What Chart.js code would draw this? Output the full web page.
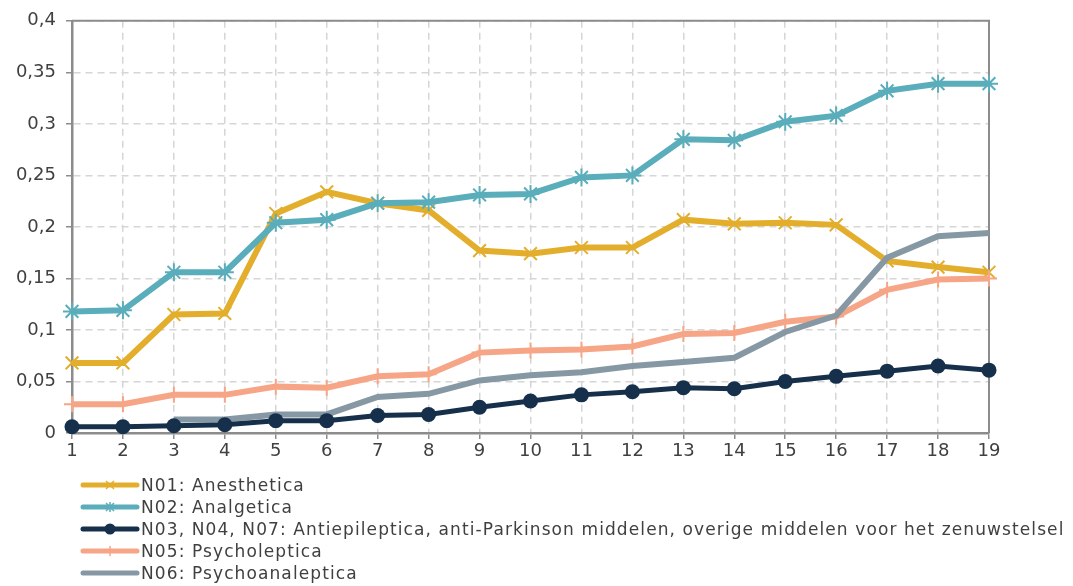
<!DOCTYPE html>
<html>
<head>
<meta charset="utf-8">
<script src="https://cdn.jsdelivr.net/npm/chart.js@4/dist/chart.umd.min.js"></script>
<style>
  html, body { margin: 0; padding: 0; background: #fff; }
  #wrap { position: relative; width: 1073px; height: 586px; }
  #c { position: absolute; left: 0; top: 0; }
  #legend { position: absolute; left: 80px; top: 474px; font-family: "DejaVu Sans", sans-serif; font-size: 17px; letter-spacing: 1.1px; color: #404040; }
  .row { height: 22px; display: flex; align-items: center; white-space: nowrap; }
  .row svg { margin-right: 1px; }
</style>
</head>
<body>
<div id="wrap">
  <canvas id="c" width="1073" height="586"></canvas>
  <div id="legend"></div>
</div>
<script>
const categories = ["1","2","3","4","5","6","7","8","9","10","11","12","13","14","15","16","17","18","19"];

const yTickLabels = ["0","0,05","0,1","0,15","0,2","0,25","0,3","0,35","0,4"];

const seriesNames = [
  "N01: Anesthetica",
  "N02: Analgetica",
  "N03, N04, N07: Antiepileptica, anti-Parkinson middelen, overige middelen voor het zenuwstelsel",
  "N05: Psycholeptica",
  "N06: Psychoanaleptica"
];

const n01 = [0.068, 0.068, 0.115, 0.116, 0.213, 0.234, 0.223, 0.216, 0.177, 0.174, 0.180, 0.180, 0.207, 0.203, 0.204, 0.202, 0.167, 0.161, 0.156];
const n02 = [0.118, 0.119, 0.156, 0.156, 0.204, 0.207, 0.223, 0.224, 0.231, 0.232, 0.248, 0.250, 0.285, 0.284, 0.302, 0.308, 0.332, 0.339, 0.339];
const n03 = [0.006, 0.006, 0.007, 0.008, 0.012, 0.012, 0.017, 0.018, 0.025, 0.031, 0.037, 0.040, 0.044, 0.043, 0.050, 0.055, 0.060, 0.065, 0.061];
const n05 = [0.028, 0.028, 0.037, 0.037, 0.045, 0.044, 0.055, 0.057, 0.078, 0.080, 0.081, 0.084, 0.096, 0.097, 0.108, 0.113, 0.139, 0.149, 0.150];
const n06 = [null, null, 0.013, 0.013, 0.018, 0.018, 0.035, 0.038, 0.051, 0.056, 0.059, 0.065, 0.069, 0.073, 0.098, 0.114, 0.170, 0.191, 0.194];

const colors = ["#E3AE2C", "#5AADBA", "#16304C", "#F6A586", "#8698A3"];
const markers = ["crossRot", "star", "circle", "cross", false];

const datasets = [
  { label: seriesNames[0], data: n01, borderColor: colors[0], backgroundColor: colors[0], borderWidth: 6,
    pointStyle: "crossRot", pointRadius: 9, pointBorderWidth: 2, pointBorderColor: colors[0], order: 5 },
  { label: seriesNames[1], data: n02, borderColor: colors[1], backgroundColor: colors[1], borderWidth: 6,
    pointStyle: "star", pointRadius: 9, pointBorderWidth: 2, pointBorderColor: colors[1], order: 4 },
  { label: seriesNames[2], data: n03, borderColor: colors[2], backgroundColor: colors[2], borderWidth: 5,
    pointStyle: "circle", pointRadius: 7.5, pointBorderWidth: 0, pointBackgroundColor: colors[2], order: 1 },
  { label: seriesNames[3], data: n05, borderColor: colors[3], backgroundColor: colors[3], borderWidth: 6,
    pointStyle: "cross", pointRadius: 8, pointBorderWidth: 2, pointBorderColor: colors[3], order: 3 },
  { label: seriesNames[4], data: n06, borderColor: colors[4], backgroundColor: colors[4], borderWidth: 6,
    pointRadius: 0, order: 2 }
].map(d => Object.assign({ tension: 0, clip: false, pointHoverRadius: d.pointRadius, spanGaps: false }, d));

// closes the plot box on the top and right sides
const frame = {
  id: "frame",
  beforeDatasetsDraw(chart) {
    const { ctx, chartArea: a } = chart;
    ctx.save();
    ctx.strokeStyle = "#8C8C8C";
    ctx.lineWidth = 2;
    ctx.beginPath();
    ctx.moveTo(a.left, a.top);
    ctx.lineTo(a.right, a.top);
    ctx.lineTo(a.right, a.bottom);
    ctx.stroke();
    ctx.restore();
  }
};

new Chart(document.getElementById("c"), {
  type: "line",
  data: { labels: categories, datasets },
  options: {
    responsive: false,
    animation: false,
    layout: { padding: { left: 0, right: 84, top: 19, bottom: 123 } },
    plugins: { legend: { display: false }, tooltip: { enabled: false } },
    scales: {
      x: {
        offset: false,
        afterFit(s) { s.height = 30; },
        grid: { color: "#D6D6D6", lineWidth: 1.5, drawTicks: true, tickLength: 6, tickColor: "#8C8C8C", tickWidth: 1.5 },
        border: { color: "#8C8C8C", width: 2.5, dash: [7, 5] },
        ticks: { color: "#404040", font: { family: "DejaVu Sans", size: 18 }, padding: 2, maxRotation: 0, autoSkip: false }
      },
      y: {
        min: 0, max: 0.4,
        afterFit(s) { s.width = 72; },
        afterBuildTicks(s) { s.ticks = yTickLabels.map((t, i) => ({ value: i * 0.05 })); },
        grid: { color: "#D6D6D6", lineWidth: 1.5, drawTicks: true, tickLength: 6, tickColor: "#8C8C8C", tickWidth: 1.5 },
        border: { color: "#8C8C8C", width: 2.5, dash: [7, 5] },
        ticks: {
          color: "#404040", font: { family: "DejaVu Sans", size: 18 }, padding: 10,
          callback(v, i) { return yTickLabels[i]; }
        }
      }
    }
  },
  plugins: [frame]
});

// legend: one entry per row, symbol drawn as line plus marker
function markerSvg(style, color) {
  const cx = 30, cy = 8;
  if (style === "crossRot") return `<path d="M${cx-4} ${cy-4} L${cx+4} ${cy+4} M${cx+4} ${cy-4} L${cx-4} ${cy+4}" stroke="${color}" stroke-width="1.5"/>`;
  if (style === "star") return `<path d="M${cx-4} ${cy-4} L${cx+4} ${cy+4} M${cx+4} ${cy-4} L${cx-4} ${cy+4} M${cx} ${cy-5} L${cx} ${cy+5}" stroke="${color}" stroke-width="1.5"/>`;
  if (style === "circle") return `<circle cx="${cx}" cy="${cy}" r="5.5" fill="${color}"/>`;
  if (style === "cross") return `<path d="M${cx} ${cy-5} L${cx} ${cy+5}" stroke="${color}" stroke-width="1.5"/>`;
  return "";
}
const legend = document.getElementById("legend");
seriesNames.forEach((name, i) => {
  const row = document.createElement("div");
  row.className = "row";
  row.innerHTML = `<svg width="60" height="16" viewBox="0 0 60 16"><line x1="3" y1="8" x2="57" y2="8" stroke="${colors[i]}" stroke-width="5" stroke-linecap="round"/>${markerSvg(markers[i], colors[i])}</svg><span>${name}</span>`;
  legend.appendChild(row);
});
</script>
</body>
</html>
